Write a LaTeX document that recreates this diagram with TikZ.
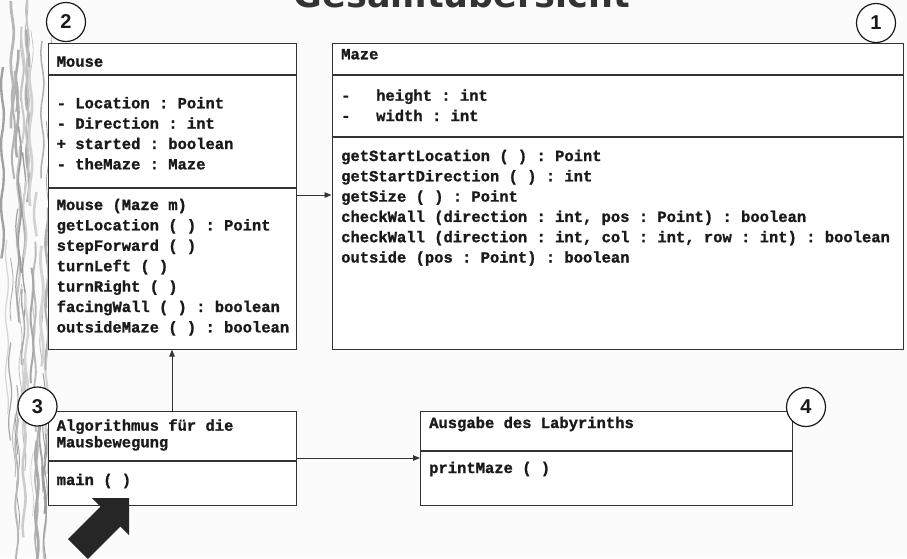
\documentclass[tikz,border=0pt]{standalone}
\usepackage{fontspec}
\usetikzlibrary{arrows.meta}
\newfontfamily\codefont{Liberation Mono}[BoldFeatures={FakeBold=1.2}]
\newfontfamily\numfont{Liberation Sans}
\newfontfamily\titlefont{DejaVu Sans}
\definecolor{pagebg}{HTML}{FBFBFB}
\definecolor{ink}{HTML}{1A1A1A}
\definecolor{frame}{HTML}{333333}
\definecolor{pointer}{HTML}{262626}

\begin{document}
\begin{tikzpicture}[x=1pt,y=-1pt,
  umlbox/.style={draw=frame, fill=white, line width=1.1pt, inner sep=0pt, anchor=north west},
  sepline/.style={draw=frame, line width=1.1pt},
  code/.style={font=\codefont\bfseries\fontsize{15.5}{20}\selectfont\frenchspacing, text=ink, inner sep=0pt, anchor=base west},
  link/.style={draw=frame, line width=0.9pt, -{Triangle[length=7pt,width=5.5pt]}},
  badge/.style={circle, draw=ink, fill=white, line width=1.2pt, minimum size=39pt, inner sep=0pt,
                font=\numfont\bfseries\fontsize{20}{20}\selectfont, text=ink},
]
\useasboundingbox (0,0) rectangle (907,558);
\clip (0,0) rectangle (907,558);
\fill[pagebg] (0,0) rectangle (907,558);

% wood-grain strip along the left edge
\pgfmathsetseed{4}
\foreach \k in {1,...,55}{
  \pgfmathsetmacro\sx{rnd*52+\k*0.1}
  \pgfmathsetmacro\sy{-40+rnd*540}
  \pgfmathsetmacro\sl{40+rnd*160}
  \pgfmathtruncatemacro\sg{15+rnd*25}
  \pgfmathsetmacro\sw{0.6+rnd*2.2}
  \draw[black!\sg, line width=\sw pt, domain=0:\sl, samples=14, smooth, variable=\t]
    plot ({\sx+1.5*sin(\t*6+\k*37)}, {\sy+\t});
}

% heading
\node[font=\titlefont\bfseries\fontsize{35}{35}\selectfont, text=frame, anchor=base, inner sep=0pt]
  (title) at (462,7) {Gesamtübersicht};

% class boxes
\node[umlbox, minimum width=248pt, minimum height=306pt] (mouse) at (47.5,42.5) {};
\node[umlbox, minimum width=571pt, minimum height=306pt] (maze) at (331.5,42.5) {};
\node[umlbox, minimum width=248pt, minimum height=94pt] (algo) at (47.5,411) {};
\node[umlbox, minimum width=372pt, minimum height=94pt] (out) at (420,411) {};

% compartment lines
\draw[sepline] (mouse.west |- 0,75) -- (mouse.east |- 0,75);
\draw[sepline] (mouse.west |- 0,188) -- (mouse.east |- 0,188);
\draw[sepline] (maze.west |- 0,75) -- (maze.east |- 0,75);
\draw[sepline] (maze.west |- 0,137) -- (maze.east |- 0,137);
\draw[sepline] (algo.west |- 0,461) -- (algo.east |- 0,461);
\draw[sepline] (out.west |- 0,451) -- (out.east |- 0,451);

% Mouse
\node[code] (mousename) at (56.5,66.7) {Mouse};
\foreach \t [count=\i] in {{- Location : Point},{- Direction : int},{+ started : boolean},{- theMaze : Maze}}
  \node[code] (mouseattr\i) at (56.5,{108.3+20.35*(\i-1)}) {\t};
\foreach \t [count=\i] in {{Mouse (Maze m)},{getLocation ( ) : Point},{stepForward ( )},{turnLeft ( )},
                           {turnRight ( )},{facingWall ( ) : boolean},{outsideMaze ( ) : boolean}}
  \node[code] (mouseop\i) at (56.5,{210+20.4*(\i-1)}) {\t};

% Maze
\node[code] (mazename) at (341,59.3) {Maze};
\node[code] (mazeattr1) at (341,100.7) {\makebox[35pt][l]{-}height : int};
\node[code] (mazeattr2) at (341,121) {\makebox[35pt][l]{-}width : int};
\foreach \t [count=\i] in {{getStartLocation ( ) : Point},{getStartDirection ( ) : int},{getSize ( ) : Point},
                           {checkWall (direction : int, pos : Point) : boolean},
                           {checkWall (direction : int, col : int, row : int) : boolean},
                           {outside (pos : Point) : boolean}}
  \node[code] (mazeop\i) at (341,{161+20.3*(\i-1)}) {\t};

% algorithm
\node[code] (algoname1) at (56.5,430.7) {Algorithmus für die};
\node[code] (algoname2) at (56.5,447.3) {Mausbewegung};
\node[code] (algoop) at (56.5,485) {main ( )};

% output
\node[code] (outname) at (429,428) {Ausgabe des Labyrinths};
\node[code] (outop) at (429,473) {printMaze ( )};

% associations
\draw[link] (mouse.east |- 0,195) -- (maze.west |- 0,195);
\draw[link] (algo.north -| 172,0) -- (mouse.south -| 172,0);
\draw[link] (algo.east |- 0,458) -- (out.west |- 0,458);

% numbered badges
\node[badge] (badge2) at (66,22) {2};
\node[badge] (badge1) at (876,23) {1};
\node[badge] (badge3) at (37.5,406.5) {3};
\node[badge] (badge4) at (806,407) {4};

% entry-point pointer
\fill[pointer] (129,498) -- (92,498) -- (100.6,506.6) -- (68,539.2) -- (87.8,559)
  -- (120.4,526.4) -- (129,535) -- cycle;
\end{tikzpicture}
\end{document}
